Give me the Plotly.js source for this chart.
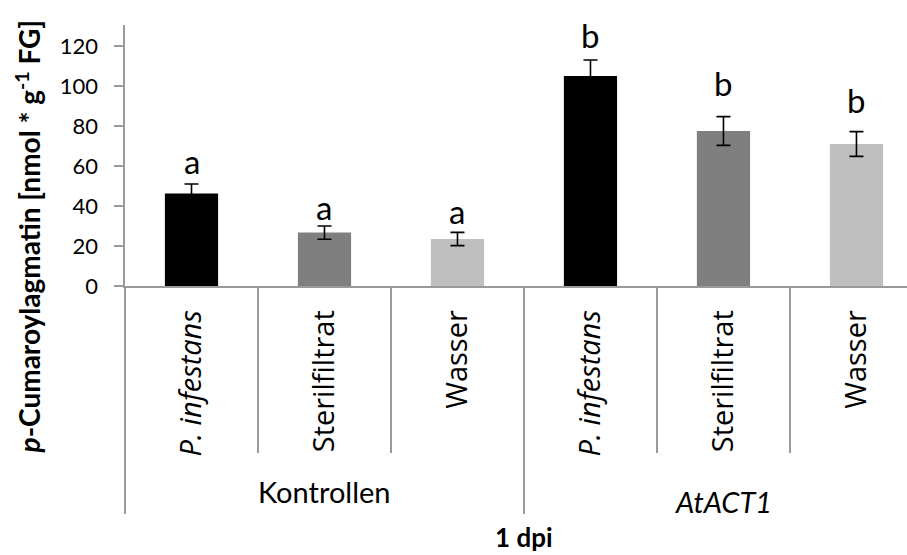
<!DOCTYPE html>
<html>
<head>
<meta charset="utf-8">
<script src="https://cdn.plot.ly/plotly-3.0.1.min.js"></script>
<style>html,body{margin:0;padding:0;background:#fff;}#chart{width:907px;height:555px;}</style>
</head>
<body>
<div id="chart"></div>
<script>
// ---- data ----
const treatments = ["<i>P. infestans</i>", "Sterilfiltrat", "Wasser", "<i>P. infestans</i>", "Sterilfiltrat", "Wasser"];
const groupNames = ["Kontrollen", "<i>AtACT1</i>"];
const groupOfBar = [0, 0, 0, 1, 1, 1];
const means = [46.3, 26.7, 23.5, 105.0, 77.5, 71.0];
const errors = [4.7, 3.3, 3.3, 8.0, 7.2, 6.2];
const letters = ["a", "a", "a", "b", "b", "b"];
const letterY = [62.6, 39.4, 37.6, 125.5, 101.3, 93.0];
const yTicks = [0, 20, 40, 60, 80, 100, 120];
const yTitle = "<b><i>p</i>-Cumaroylagmatin [nmol * g<sup>-1</sup> FG]</b>";
const xTitle = "<b>1 dpi</b>";

// ---- styling ----
const barColors = ["#000000", "#7f7f7f", "#bfbfbf", "#000000", "#7f7f7f", "#bfbfbf"];
const axisGrey = "#9a9a9a";
const numFont = "Lato, Liberation Sans, sans-serif";
const catFont = "Open Sans, DejaVu Sans, sans-serif";

const idx = treatments.map((_, i) => i);
const xRange = [-0.5, 5.38];

// boundaries between bars and between groups, derived from the category indices
const barBounds = idx.map(i => i - 0.5).concat([idx.length - 0.5]);
const groupBounds = [-0.5];
groupOfBar.forEach((g, i) => {
  if (i === groupOfBar.length - 1 || groupOfBar[i + 1] !== g) groupBounds.push(i + 0.5);
});
const groupCenters = groupNames.map((_, g) => {
  const members = idx.filter(i => groupOfBar[i] === g);
  return members.reduce((a, b) => a + b, 0) / members.length;
});

const trace = {
  type: "bar",
  x: idx,
  y: means,
  width: 0.4,
  marker: { color: barColors, line: { width: 0 } },
  error_y: { type: "data", array: errors, visible: true, color: "#000", thickness: 1.6, width: 7 },
  hoverinfo: "none",
  cliponaxis: false
};

const annotations = [];
idx.forEach(i => {
  annotations.push({
    x: i, y: letterY[i], xref: "x", yref: "y", text: letters[i], showarrow: false,
    xanchor: "center", yanchor: "middle",
    font: { family: numFont, size: 33, color: "#000" }
  });
});
groupNames.forEach((name, g) => {
  annotations.push({
    x: groupCenters[g], y: g === 0 ? -0.789 : -0.824, xref: "x", yref: "paper", text: name,
    showarrow: false, xanchor: "center", yanchor: "middle",
    font: { family: numFont, size: 29, color: "#000" }
  });
});
annotations.push({
  x: (idx[0] + idx[idx.length - 1]) / 2, y: -0.963, xref: "x", yref: "paper", text: xTitle,
  showarrow: false, xanchor: "center", yanchor: "middle",
  font: { family: numFont, size: 26, color: "#000" }
});
annotations.push({
  x: -0.124, y: 0.19, xref: "paper", yref: "paper", text: yTitle, textangle: -90,
  showarrow: false, xanchor: "center", yanchor: "middle",
  font: { family: numFont, size: 28, color: "#000" }
});

const layout = {
  width: 907, height: 555,
  margin: { l: 125, r: 0, t: 25, b: 269, pad: 0 },
  paper_bgcolor: "#fff", plot_bgcolor: "#fff",
  showlegend: false,
  xaxis: {
    type: "linear", range: xRange, tickmode: "array", tickvals: idx, ticktext: treatments,
    tickangle: -90, ticks: "", showgrid: false, zeroline: false,
    showline: true, linecolor: axisGrey, linewidth: 1.6,
    tickfont: { family: catFont, size: 29, color: "#000" },
    ticklabelstandoff: 11, fixedrange: true
  },
  xaxis2: {
    overlaying: "x", anchor: "y", side: "bottom", type: "linear", range: xRange,
    tickmode: "array", tickvals: barBounds, ticks: "outside", ticklen: 166,
    tickcolor: axisGrey, tickwidth: 1.6, showticklabels: false,
    showgrid: false, zeroline: false, showline: false
  },
  xaxis3: {
    overlaying: "x", anchor: "y", side: "bottom", type: "linear", range: xRange,
    tickmode: "array", tickvals: groupBounds, ticks: "outside", ticklen: 227,
    tickcolor: axisGrey, tickwidth: 1.6, showticklabels: false,
    showgrid: false, zeroline: false, showline: false
  },
  yaxis: {
    range: [0, 130.5], tickmode: "array", tickvals: yTicks, ticks: "outside", ticklen: 9,
    tickcolor: axisGrey, tickwidth: 1.6, showline: true, linecolor: axisGrey, linewidth: 1.6,
    showgrid: false, zeroline: false,
    tickfont: { family: numFont, size: 22, color: "#000" },
    ticklabelstandoff: 12, fixedrange: true
  },
  annotations: annotations
};

// invisible traces so the overlay axes are drawn
const helper2 = { type: "scatter", x: [xRange[0]], y: [0], xaxis: "x2", yaxis: "y", mode: "markers", marker: { opacity: 0 }, hoverinfo: "none" };
const helper3 = { type: "scatter", x: [xRange[0]], y: [0], xaxis: "x3", yaxis: "y", mode: "markers", marker: { opacity: 0 }, hoverinfo: "none" };

Plotly.newPlot("chart", [trace, helper2, helper3], layout, { staticPlot: true, displayModeBar: false });
</script>
</body>
</html>
